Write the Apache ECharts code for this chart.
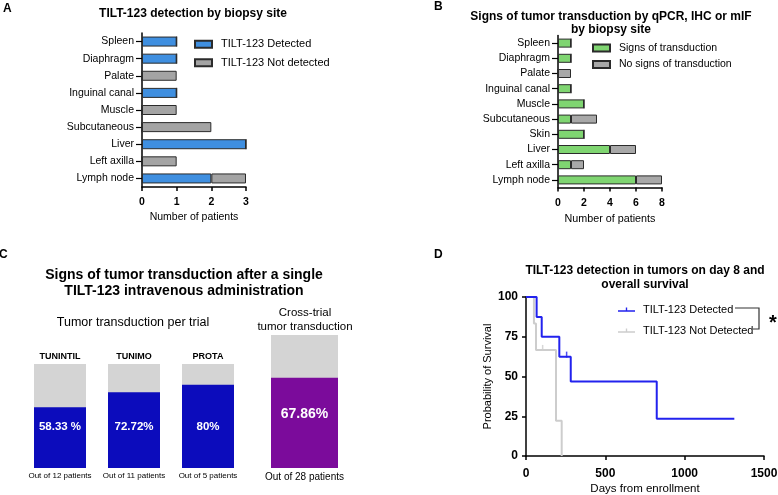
<!DOCTYPE html>
<html><head><meta charset="utf-8">
<script src="https://cdn.jsdelivr.net/npm/echarts@6/dist/echarts.min.js"></script>
<style>html,body{margin:0;padding:0;background:#fff}#c{width:778px;height:495px}</style>
</head><body><div id="c"></div>
<script>
// ---- Panel A data ----
const sitesA = ['Spleen','Diaphragm','Palate','Inguinal canal','Muscle','Subcutaneous','Liver','Left axilla','Lymph node'];
const detectedA = [1,1,0,1,0,0,3,0,2];
const notDetectedA = [0,0,1,0,1,2,0,1,1];
// ---- Panel B data ----
const sitesB = ['Spleen','Diaphragm','Palate','Inguinal canal','Muscle','Subcutaneous','Skin','Liver','Left axilla','Lymph node'];
const signsB = [1,1,0,1,2,1,2,4,1,6];
const noSignsB = [0,0,1,0,0,2,0,2,1,2];
// ---- Panel C data ----
const trialsC = ['TUNINTIL','TUNIMO','PROTA'];
const transducedC = [58.33,72.72,80];
const labelsC = ['58.33 %','72.72%','80%'];
const patientsC = [12,11,5];
const crossValueC = [67.86];
const crossLabelC = ['67.86%'];
const crossPatientsC = [28];
// ---- Panel D data (Kaplan-Meier) ----
const kmDetected = [[0,100],[67,87.5],[99,75],[210,62.5],[282,46.9],[824,23.4],[1313,23.4]];
const kmNotDetected = [[0,100],[50,83.3],[63,66.7],[189,22.2],[225,0]];
const censorDetected = [[256,62.5]];
const censorNotDetected = [[105,66.7]];
const ticksXD = [0,500,1000,1500];
const ticksYD = [0,25,50,75,100];

const FONT = '"Liberation Sans", Arial, Helvetica, sans-serif';
const BLACK = '#000';
const chart = echarts.init(document.getElementById('c'));

function valueX(grid, max, interval, name, nameGap, labelSize, labelMargin, nameSize) {
  return {type:'value', gridIndex:grid, min:0, max:max, interval:interval,
    splitLine:{show:false},
    axisLine:{show:true, lineStyle:{color:BLACK, width:1.5}},
    axisTick:{show:true, length:4, lineStyle:{color:BLACK, width:1.5}},
    axisLabel:{color:BLACK, fontWeight:'bold', fontSize:labelSize, margin:labelMargin, fontFamily:FONT,
      formatter:function(v){return String(v);}},
    name:name, nameLocation:'middle', nameGap:nameGap,
    nameTextStyle:{color:BLACK, fontSize:nameSize, fontFamily:FONT}};
}
function catY(grid, data) {
  return {type:'category', gridIndex:grid, data:data, inverse:true,
    axisLine:{show:true, lineStyle:{color:BLACK, width:1.5}},
    axisTick:{show:true, alignWithLabel:true, length:6, lineStyle:{color:BLACK, width:1.2}},
    axisLabel:{color:BLACK, fontSize:10.5, margin:8, interval:0, fontFamily:FONT}};
}
function hiddenY(grid) {
  return {type:'value', gridIndex:grid, min:0, max:100, show:false};
}
function barLegend(left, top, gap, names, size) {
  return {show:true, orient:'vertical', left:left, top:top, padding:0, itemWidth:17, itemHeight:7, itemGap:gap,
    icon:'rect', data:names, selectedMode:false,
    textStyle:{color:BLACK, fontSize:size, fontFamily:FONT, padding:[0,0,0,4]}};
}
const border = {borderColor:'#2b2b2b', borderWidth:1};
const TT = {padding:0};

const option = {
  animation:false,
  backgroundColor:'#fff',
  textStyle:{fontFamily:FONT},
  title:[
    Object.assign({text:'TILT-123 detection by biopsy site', left:193, top:7.2, textAlign:'center',
      textStyle:{fontSize:12, fontWeight:'bold', color:BLACK, fontFamily:FONT}}, TT),
    Object.assign({text:'Signs of tumor transduction by qPCR, IHC or mIF\nby biopsy site', left:611, top:9.5, textAlign:'center',
      textStyle:{fontSize:12, fontWeight:'bold', color:BLACK, lineHeight:13.6, fontFamily:FONT}}, TT),
    Object.assign({text:'Signs of tumor transduction after a single\nTILT-123 intravenous administration', left:184, top:267.5, textAlign:'center',
      textStyle:{fontSize:14, fontWeight:'bold', color:BLACK, lineHeight:15.7, fontFamily:FONT}}, TT),
    Object.assign({text:'Tumor transduction per trial', left:133, top:316, textAlign:'center',
      textStyle:{fontSize:12.5, fontWeight:'normal', color:BLACK, fontFamily:FONT}}, TT),
    Object.assign({text:'Cross-trial\ntumor transduction', left:305, top:305.5, textAlign:'center',
      textStyle:{fontSize:11.5, fontWeight:'normal', color:BLACK, lineHeight:14.3, fontFamily:FONT}}, TT),
    Object.assign({text:'TILT-123 detection in tumors on day 8 and\noverall survival', left:645, top:263.6, textAlign:'center',
      textStyle:{fontSize:12, fontWeight:'bold', color:BLACK, lineHeight:14, fontFamily:FONT}}, TT)
  ],
  legend:[
    barLegend(194, 38.8, 7.5, ['TILT-123 Detected','TILT-123 Not detected'], 11),
    barLegend(592, 42.5, 5.6, ['Signs of transduction','No signs of transduction'], 10.5),
    {show:true, orient:'vertical', left:618, top:304, padding:0, itemWidth:17, itemHeight:8, itemGap:10,
      symbolKeepAspect:true, selectedMode:false,
      data:[{name:'OS: TILT-123 Detected', icon:'path://M0,4h20v1.6h-20z M9.2,0.6h1.6v4h-1.6z'},
            {name:'OS: TILT-123 Not Detected', icon:'path://M0,4h20v1.6h-20z M9.2,0.6h1.6v4h-1.6z'}],
      formatter:function(n){return n.replace('OS: ','');},
      textStyle:{color:BLACK, fontSize:11, fontFamily:FONT, padding:[0,0,0,3]}}
  ],
  grid:[
    {left:142, top:33, width:104, height:154, outerBoundsMode:'none'},
    {left:558, top:35.5, width:104, height:152, outerBoundsMode:'none'},
    {left:23, top:364, width:222, height:104, outerBoundsMode:'none'},
    {left:271, top:335, width:67, height:133, outerBoundsMode:'none'},
    {left:526, top:297, width:238, height:159, outerBoundsMode:'none'}
  ],
  xAxis:[
    valueX(0, 3, 1, 'Number of patients', 25, 10.5, 9.5, 10.5),
    valueX(1, 8, 2, 'Number of patients', 26, 10.5, 10, 10.75),
    {type:'category', gridIndex:2, position:'top', data:trialsC,
      axisLine:{show:false}, axisTick:{show:false},
      axisLabel:{interval:0, color:BLACK, fontWeight:'bold', fontSize:9, margin:3, fontFamily:FONT}},
    {type:'category', gridIndex:2, position:'bottom', data:patientsC.map(n => 'Out of ' + n + ' patients'),
      axisLine:{show:false}, axisTick:{show:false},
      axisLabel:{interval:0, color:BLACK, fontSize:8, margin:4, fontFamily:FONT}},
    {type:'category', gridIndex:3, position:'bottom', data:crossPatientsC.map(n => 'Out of ' + n + ' patients'),
      axisLine:{show:false}, axisTick:{show:false},
      axisLabel:{interval:0, color:BLACK, fontSize:10, margin:4, fontFamily:FONT}},
    Object.assign(valueX(4, 1500, 500, 'Days from enrollment', 27, 12, 12, 11.5), {min:ticksXD[0], max:ticksXD[ticksXD.length-1]})
  ],
  yAxis:[
    catY(0, sitesA),
    catY(1, sitesB),
    hiddenY(2),
    hiddenY(3),
    Object.assign(valueX(4, 100, 25, 'Probability of Survival', 33, 12, 8, 11), {min:ticksYD[0], max:ticksYD[ticksYD.length-1], nameRotate:90})
  ],
  series:[
    {type:'bar', name:'TILT-123 Detected', xAxisIndex:0, yAxisIndex:0, stack:'A', data:detectedA, barWidth:10,
      itemStyle:Object.assign({color:'#3f8fe0'}, border)},
    {type:'bar', name:'TILT-123 Not detected', xAxisIndex:0, yAxisIndex:0, stack:'A', data:notDetectedA, barWidth:10,
      itemStyle:Object.assign({color:'#a4a4a4'}, border)},
    {type:'bar', name:'Signs of transduction', xAxisIndex:1, yAxisIndex:1, stack:'B', data:signsB, barWidth:9,
      itemStyle:Object.assign({color:'#7fd571'}, border)},
    {type:'bar', name:'No signs of transduction', xAxisIndex:1, yAxisIndex:1, stack:'B', data:noSignsB, barWidth:9,
      itemStyle:Object.assign({color:'#a8a8a8'}, border)},
    {type:'bar', name:'Transduction per trial', xAxisIndex:2, yAxisIndex:2, data:transducedC, barWidth:52,
      showBackground:true, backgroundStyle:{color:'#d4d4d4'},
      itemStyle:{color:'#0c0cbc'},
      label:{show:true, position:'insideBottom', distance:35, color:'#fff', fontWeight:'bold', fontSize:11.5, fontFamily:FONT,
        formatter:function(p){return labelsC[p.dataIndex];}}},
    {type:'bar', name:'Cross-trial transduction', xAxisIndex:4, yAxisIndex:3, data:crossValueC, barWidth:67,
      showBackground:true, backgroundStyle:{color:'#d4d4d4'},
      itemStyle:{color:'#7b0b9b'},
      label:{show:true, position:'insideBottom', distance:47, color:'#fff', fontWeight:'bold', fontSize:14, fontFamily:FONT,
        formatter:function(p){return crossLabelC[p.dataIndex];}}},
    {type:'line', name:'OS: TILT-123 Not Detected', xAxisIndex:5, yAxisIndex:4, data:kmNotDetected, step:'end',
      symbol:'none', showSymbol:false, color:'#cdcdcd', lineStyle:{color:'#cdcdcd', width:2}, z:2},
    {type:'line', name:'OS: TILT-123 Detected', xAxisIndex:5, yAxisIndex:4, data:kmDetected, step:'end',
      symbol:'none', showSymbol:false, color:'#2222ee', lineStyle:{color:'#2222ee', width:2}, z:3},
    {type:'scatter', name:'censor-nd', xAxisIndex:5, yAxisIndex:4, data:censorNotDetected, symbol:'rect',
      symbolSize:[1.5,6], symbolOffset:[0,-2], itemStyle:{color:'#cdcdcd'}, z:2},
    {type:'scatter', name:'censor-d', xAxisIndex:5, yAxisIndex:4, data:censorDetected, symbol:'rect',
      symbolSize:[1.5,6], symbolOffset:[0,-2], itemStyle:{color:'#2222ee'}, z:4}
  ],
  graphic:[
    {type:'text', left:3, top:3, style:{text:'A', font:'bold 12px ' + FONT, fill:BLACK}},
    {type:'text', left:434, top:1, style:{text:'B', font:'bold 12px ' + FONT, fill:BLACK}},
    {type:'text', left:-1, top:249, style:{text:'C', font:'bold 12px ' + FONT, fill:BLACK}},
    {type:'text', left:434, top:249, style:{text:'D', font:'bold 12px ' + FONT, fill:BLACK}},
    {type:'polyline', shape:{points:[[735,308],[759,308],[759,329],[753,329]]},
      style:{stroke:'#333', lineWidth:1.2, fill:null}},
    {type:'text', x:773, y:323, style:{text:'*', font:'bold 20px ' + FONT, fill:BLACK, textAlign:'center', textVerticalAlign:'middle'}}
  ]
};
chart.setOption(option);
</script>
</body></html>
